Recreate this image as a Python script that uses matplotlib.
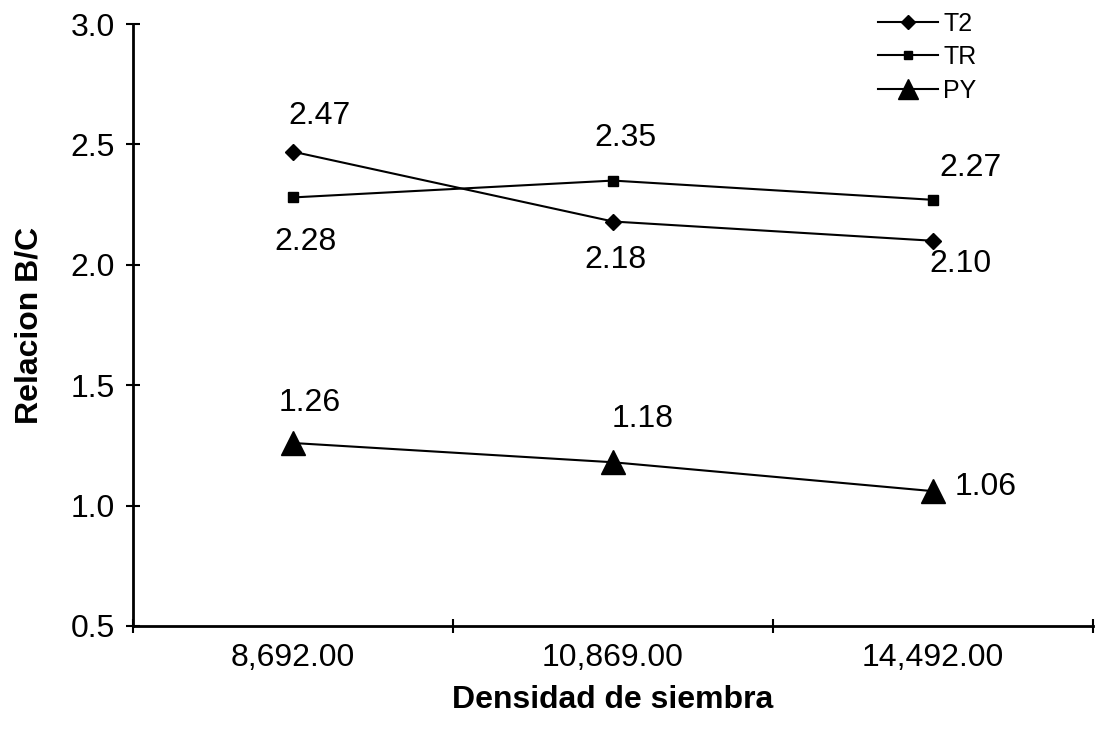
import matplotlib
matplotlib.use("Agg")
import matplotlib.pyplot as plt
from matplotlib.ticker import FixedLocator

plt.rcParams["font.family"] = ["Liberation Sans", "DejaVu Sans"]

densidades = ["8,692.00", "10,869.00", "14,492.00"]
t2 = [2.47, 2.18, 2.10]
tr = [2.28, 2.35, 2.27]
py = [1.26, 1.18, 1.06]

# label offsets in points (dx, dy) for each series
t2_off = [(19, 26), (2, -28), (20, -17)]
tr_off = [(9, -32), (9, 31), (27, 23)]
py_off = [(12, 29), (21, 31), (38, 3)]

fig = plt.figure(figsize=(10.97, 7.30), dpi=100)
ax = fig.add_axes([0.1212, 0.1425, 0.8752, 0.8245])

x = list(range(len(densidades)))
ax.plot(x, t2, color="black", lw=1.5, marker="D", ms=8.5, label="T2")
ax.plot(x, tr, color="black", lw=1.5, marker="s", ms=7, label="TR")
ax.plot(x, py, color="black", lw=1.5, marker="^", ms=17, label="PY")

for serie, offs in ((t2, t2_off), (tr, tr_off), (py, py_off)):
    for xi, v, (dx, dy) in zip(x, serie, offs):
        ax.annotate(f"{v:.2f}", (xi, v), xytext=(dx, dy), textcoords="offset points",
                    ha="center", va="center", fontsize=23)

ax.set_xlim(-0.5, 2.5)
ax.set_ylim(0.5, 3.0)
ax.set_yticks([0.5, 1.0, 1.5, 2.0, 2.5, 3.0])
ax.set_yticklabels([f"{v:.1f}" for v in [0.5, 1.0, 1.5, 2.0, 2.5, 3.0]])
ax.set_xticks(x)
ax.set_xticklabels(densidades)
ax.xaxis.set_minor_locator(FixedLocator([-0.5, 0.5, 1.5, 2.5]))
ax.tick_params(axis="x", which="major", length=0, pad=12, labelsize=23)
ax.tick_params(axis="x", which="minor", length=10, width=1.5, direction="inout")
ax.tick_params(axis="y", length=10, width=1.5, direction="inout", labelsize=23, pad=8)

for s in ("top", "right"):
    ax.spines[s].set_visible(False)
for s in ("left", "bottom"):
    ax.spines[s].set_linewidth(2)

ax.set_xlabel("Densidad de siembra", fontsize=23, fontweight="bold", labelpad=9)
ax.set_ylabel("Relacion B/C", fontsize=23, fontweight="bold", labelpad=19)

ax.legend(loc="upper right", bbox_to_anchor=(0.902, 1.058), frameon=False, fontsize=18,
          handlelength=2.4, handletextpad=0.2, labelspacing=0.38, markerscale=0.85)

fig.savefig("out.png", dpi=100)
